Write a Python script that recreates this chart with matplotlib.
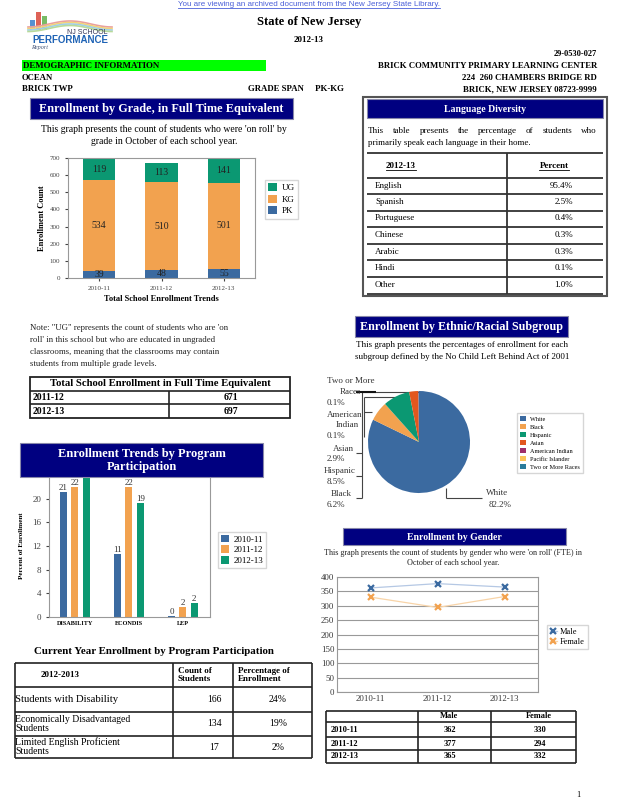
import numpy as np
import matplotlib.pyplot as plt
from matplotlib.patches import Rectangle

plt.rcParams['font.family'] = ['Liberation Serif', 'DejaVu Serif']

# data
years = ['2010-11', '2011-12', '2012-13']
pk = [39, 48, 55]
kg = [534, 510, 501]
ug = [119, 113, 141]

languages = ['English', 'Spanish', 'Portuguese', 'Chinese', 'Arabic', 'Hindi', 'Other']
lang_pct = ['95.4%', '2.5%', '0.4%', '0.3%', '0.3%', '0.1%', '1.0%']

races = ['White', 'Black', 'Hispanic', 'Asian', 'American Indian',
         'Pacific Islander', 'Two or More Races']
race_pct = [82.2, 6.2, 8.5, 2.9, 0.1, 0.0, 0.1]

programs = ['DISABILITY', 'ECONDIS', 'LEP']
prog_1011 = [21.2, 10.7, 0.2]
prog_1112 = [22.0, 22.0, 1.7]
prog_1213 = [24.0, 19.2, 2.4]

prog_names = ['Students with Disability', 'Economically Disadvantaged\nStudents',
              'Limited English Proficient\nStudents']
prog_counts = [166, 134, 17]
prog_pct = ['24%', '19%', '2%']

total_years = ['2011-12', '2012-13']
total_fte = [671, 697]

male = [362, 377, 365]
female = [330, 294, 332]

NAVY = '#000080'
BLUE = '#3b6aa0'
ORANGE = '#f2a24f'
GREEN = '#0b9872'
RED = '#e2571e'
PURPLE = '#9e2f6c'
YELLOW = '#fbc55a'
TEAL = '#2a7b9b'
race_colors = [BLUE, ORANGE, GREEN, RED, PURPLE, YELLOW, TEAL]

fig = plt.figure(figsize=(6.18, 8.0), dpi=100)
page = fig.add_axes([0, 0, 1, 1])
page.set_xlim(0, 618)
page.set_ylim(800, 0)
page.axis('off')
rend = fig.canvas.get_renderer()


def ax_at(x0, y0, x1, y1):
    return fig.add_axes([x0 / 618, 1 - y1 / 800, (x1 - x0) / 618, (y1 - y0) / 800])


def title_bar(ax, x0, y0, x1, y1, text, fs=8):
    ax.add_patch(Rectangle((x0, y0), x1 - x0, y1 - y0, fc=NAVY, ec='#8888aa', lw=0.8))
    ax.text((x0 + x1) / 2, (y0 + y1) / 2 + 0.5, text, color='white', fontweight='bold',
            fontsize=fs, ha='center', va='center', linespacing=1.1)


def hline(x0, x1, y, lw=1.2, c='#222222'):
    page.plot([x0, x1], [y, y], color=c, lw=lw, solid_capstyle='butt')


def vline(x, y0, y1, lw=1.2, c='#222222'):
    page.plot([x, x], [y0, y1], color=c, lw=lw, solid_capstyle='butt')


def underlined(x, y, s, **kw):
    t = page.text(x, y, s, va='center', **kw)
    bb = t.get_window_extent(rend)
    xa = page.transData.inverted().transform([[bb.x0, bb.y0], [bb.x1, bb.y0]])
    page.plot(xa[:, 0], [xa[0, 1] + 0.3] * 2, color=kw.get('color', 'black'), lw=0.6)


def justify(x0, x1, y, line, **kw):
    words = line.split()
    ts = [page.text(0, y, w, va='center', ha='left', **kw) for w in words]
    ws = [t.get_window_extent(rend).width for t in ts]
    gap = (x1 - x0 - sum(ws)) / (len(words) - 1)
    x = x0
    for t, w in zip(ts, ws):
        t.set_x(x)
        x += w + gap


# ---- header
link = 'You are viewing an archived document from the New Jersey State Library.'
underlined(309, 4, link, ha='center', fontsize=5.8, color='#4a5fd8', family='Liberation Sans')
page.text(309, 22, 'State of New Jersey', ha='center', va='center', fontsize=9, fontweight='bold')
page.text(309, 40, '2012-13', ha='center', va='center', fontsize=6.5, fontweight='bold')
page.text(597, 54, '29-0530-027', ha='right', va='center', fontsize=6, fontweight='bold')
page.add_patch(Rectangle((22, 60), 244, 11, fc='#00ff00', ec='none'))
page.text(23, 66, 'DEMOGRAPHIC INFORMATION', va='center', fontsize=6.4, fontweight='bold')
page.text(597, 66, 'BRICK COMMUNITY PRIMARY LEARNING CENTER', ha='right', va='center',
          fontsize=6.3, fontweight='bold')
page.text(22, 78, 'OCEAN', va='center', fontsize=6.3, fontweight='bold')
page.text(597, 78, '224  260 CHAMBERS BRIDGE RD', ha='right', va='center', fontsize=6.3, fontweight='bold')
page.text(22, 89, 'BRICK TWP', va='center', fontsize=6.3, fontweight='bold')
page.text(248, 89, 'GRADE SPAN     PK-KG', va='center', fontsize=6.3, fontweight='bold')
page.text(597, 89, 'BRICK, NEW JERSEY 08723-9999', ha='right', va='center', fontsize=6.3, fontweight='bold')

# logo
for bx, btop, c in [(30, 20, '#3a7dc9'), (36, 12, '#d9473a'), (42, 16, '#5fb04a')]:
    page.add_patch(Rectangle((bx, btop), 5, 30 - btop, fc=c, ec='none', alpha=0.85))
sx = np.linspace(28, 112, 40)
for k, c in enumerate(['#e9a0a0', '#f3d27a', '#9fd0e8', '#b8d99a']):
    page.plot(sx, 27 + k * 1.5 - 6 * np.sin((sx - 28) / 84 * np.pi) ** 2, color=c, lw=1.2)
page.text(108, 33, 'NJ SCHOOL', ha='right', va='center', fontsize=5, color='#333355', family='Liberation Sans')
page.text(108, 40, 'PERFORMANCE', ha='right', va='center', fontsize=7, color='#1f63b5',
          fontweight='bold', family='Liberation Sans')
page.text(31, 48, 'Report', va='center', fontsize=4.5, color='#445577', style='italic')

# ---- enrollment by grade
title_bar(page, 30, 98, 293, 119, 'Enrollment by Grade, in Full Time Equivalent', fs=8.8)
page.text(164, 129, "This graph presents the count of students who were 'on roll' by",
          ha='center', va='center', fontsize=7)
page.text(164, 141, 'grade in October of each school year.', ha='center', va='center', fontsize=7)

ax1 = ax_at(68, 158, 255, 278)
x = np.arange(len(years))
pk_a, kg_a, ug_a = np.array(pk), np.array(kg), np.array(ug)
b_pk = ax1.bar(x, pk_a, 0.52, color=BLUE, label='PK')
b_kg = ax1.bar(x, kg_a, 0.52, bottom=pk_a, color=ORANGE, label='KG')
b_ug = ax1.bar(x, ug_a, 0.52, bottom=pk_a + kg_a, color=GREEN, label='UG')
for b in (b_pk, b_kg, b_ug):
    ax1.bar_label(b, label_type='center', fontsize=7, color='#222222')
ax1.set_xlim(-0.5, 2.5)
ax1.set_ylim(0, 700)
ax1.set_yticks(range(0, 701, 100))
ax1.set_xticks(x, years)
ax1.tick_params(labelsize=5, length=2, colors='#444444')
for s in ax1.spines.values():
    s.set_color('#999999')
ax1.set_ylabel('Enrollment Count', fontsize=6, fontweight='bold', labelpad=3)
ax1.set_xlabel('Total School Enrollment Trends', fontsize=6, fontweight='bold', labelpad=3)
ax1.legend(handles=[b_ug, b_kg, b_pk], loc='upper left', bbox_to_anchor=(260 / 618, 1 - 175 / 800),
           bbox_transform=fig.transFigure, fontsize=6.5, fancybox=False, edgecolor='#cccccc',
           handlelength=1, handleheight=1, borderpad=0.4, labelspacing=0.25, handletextpad=0.5)

# ---- language diversity
page.add_patch(Rectangle((363, 97), 244, 199, fc='none', ec='#555555', lw=1.5))
title_bar(page, 367, 99, 603, 118, 'Language Diversity', fs=7)
justify(368, 597, 131, 'This table presents the percentage of students who', fontsize=6.5)
page.text(368, 143, 'primarily speak each language in their home.', va='center', fontsize=6.5)
row_y = [153, 178, 194, 211, 227, 244, 260, 277, 294]
for yy in row_y:
    hline(367, 603, yy, lw=1.3, c='#333333')
vline(507, 153, 294, lw=1.3, c='#333333')
underlined(401, 166, '2012-13', ha='center', fontsize=6.5, fontweight='bold')
underlined(554, 166, 'Percent', ha='center', fontsize=6.5, fontweight='bold')
for i, (lang, p) in enumerate(zip(languages, lang_pct)):
    yc = (row_y[i + 1] + row_y[i + 2]) / 2 - 0.5
    page.text(375, yc, lang, va='center', fontsize=6.5)
    page.text(573, yc, p, va='center', ha='right', fontsize=6.5)

# ---- note and totals
note = ['Note: "UG" represents the count of students who are \'on',
        "roll' in this school but who are educated in ungraded",
        'classrooms, meaning that the classrooms may contain',
        'students from multiple grade levels.']
for i, s in enumerate(note):
    page.text(30, 328 + i * 12, s, va='center', fontsize=6.3, color='#222222')

page.add_patch(Rectangle((30, 377), 260, 41, fc='none', ec='#222222', lw=1.3))
hline(30, 290, 391)
hline(30, 290, 404)
vline(169, 391, 418)
page.text(160, 384, 'Total School Enrollment in Full Time Equivalent', ha='center', va='center',
          fontsize=7.7, fontweight='bold')
for i, (yr, v) in enumerate(zip(total_years, total_fte)):
    yc = 397.5 + i * 13.5
    page.text(33, yc, yr, va='center', fontsize=7, fontweight='bold')
    page.text(231, yc, str(v), va='center', ha='center', fontsize=7, fontweight='bold')

# ---- ethnic / racial subgroup
title_bar(page, 355, 316, 568, 337, 'Enrollment by Ethnic/Racial Subgroup', fs=8.7)
page.text(462, 345, 'This graph presents the percentages of enrollment for each',
          ha='center', va='center', fontsize=6.5)
page.text(462, 357, 'subgroup defined by the No Child Left Behind Act of 2001',
          ha='center', va='center', fontsize=6.5)
axp = ax_at(368, 391, 470, 493)
axp.pie(race_pct, colors=race_colors, startangle=90, counterclock=False,
        wedgeprops=dict(linewidth=0))
axp.set_xlim(-1, 1)
axp.set_ylim(-1, 1)
axp.set_aspect('equal')

# leader lines
vline(362, 391, 498, lw=0.8, c='#444444')
hline(362, 419, 391.5, lw=0.8, c='#444444')
hline(356, 376, 391.5, lw=1.5, c='#111111')
hline(364, 408, 397, lw=0.8, c='#444444')
hline(364, 372, 412, lw=0.8, c='#444444')
vline(364, 397, 437, lw=0.8, c='#444444')
for yy in (453, 476, 498):
    hline(356, 362, yy, lw=0.8, c='#444444')
vline(446, 488, 498, lw=0.8, c='#444444')
hline(446, 482, 498, lw=0.8, c='#444444')

pie_txt = [(351, 381, 'Two or More'), (350, 392, 'Races'), (336, 403, '0.1%'),
           (345, 415, 'American'), (347, 425, 'Indian'), (336, 436, '0.1%'),
           (343, 449, 'Asian'), (336, 459, '2.9%'),
           (340, 471, 'Hispanic'), (336, 482, '8.5%'),
           (341, 494, 'Black'), (336, 505, '6.2%'),
           (497, 493, 'White'), (500, 505, '82.2%')]
for tx, ty, s in pie_txt:
    page.text(tx, ty, s, ha='center', va='center', fontsize=6.5, color='#333333')

handles = [Rectangle((0, 0), 1, 1, fc=c) for c in race_colors]
axp.legend(handles, races, loc='upper left', bbox_to_anchor=(514 / 618, 1 - 410 / 800),
           bbox_transform=fig.transFigure, fontsize=4.5, fancybox=False, edgecolor='#cccccc',
           handlelength=0.9, handleheight=0.9, borderpad=0.5, labelspacing=0.35, handletextpad=0.6)

# ---- program participation chart
ax3 = ax_at(49, 475, 210, 617)
w = 0.21
top = 24
for k, (vals, c, lab) in enumerate(zip([prog_1011, prog_1112, prog_1213], [BLUE, ORANGE, GREEN], years)):
    b = ax3.bar(np.arange(3) + (k - 1) * w, vals, 0.13, color=c, label=lab)
    # label hidden behind the title bar in the original when the bar reaches the top
    labs = ['%d' % round(v) if v < top else '' for v in vals]
    ax3.bar_label(b, labels=labs, fontsize=6.5, padding=0, color='#333333')
ax3.set_xlim(-0.48, 2.5)
ax3.set_ylim(0, top)
ax3.set_yticks(range(0, 25, 4))
ax3.set_xticks(np.arange(3), programs)
ax3.tick_params(axis='y', labelsize=6.5, length=2, colors='#444444')
ax3.tick_params(axis='x', labelsize=4.5, length=0, pad=3)
for lbl in ax3.get_xticklabels():
    lbl.set_fontweight('bold')
for s in ax3.spines.values():
    s.set_color('#999999')
ax3.set_ylabel('Percent of Enrollment', fontsize=5, fontweight='bold', labelpad=6)
ax3.legend(loc='upper left', bbox_to_anchor=(213 / 618, 1 - 527 / 800), bbox_transform=fig.transFigure,
           fontsize=6.5, fancybox=False, edgecolor='#cccccc', handlelength=0.9, handleheight=0.9,
           borderpad=0.35, labelspacing=0.2, handletextpad=0.5)

# ---- current year table
page.text(154, 652, 'Current Year Enrollment by Program Participation', ha='center', va='center',
          fontsize=7.8, fontweight='bold')
tbl_y = [663, 687, 712, 736, 758]
for yy in tbl_y:
    hline(15, 312, yy)
for xx in (15, 173, 233, 312):
    vline(xx, 663, 758)
page.text(60, 675, '2012-2013', ha='center', va='center', fontsize=6.5, fontweight='bold')
page.text(178, 675, 'Count of\nStudents', va='center', fontsize=6.5, fontweight='bold', linespacing=1.15)
page.text(238, 675, 'Percentage of\nEnrollment', va='center', fontsize=6.5, fontweight='bold', linespacing=1.15)
for i, (nm, cnt, pc) in enumerate(zip(prog_names, prog_counts, prog_pct)):
    yc = (tbl_y[i + 1] + tbl_y[i + 2]) / 2
    page.text(15, yc, nm, va='center', fontsize=7.7 if i == 0 else 7, linespacing=1.0)
    page.text(214, yc, str(cnt), va='center', ha='center', fontsize=7)
    page.text(278, yc, pc, va='center', ha='center', fontsize=7)

# ---- enrollment by gender
title_bar(page, 343, 528, 566, 545, 'Enrollment by Gender', fs=7)
page.text(453, 553, "This graph presents the count of students by gender who were 'on roll' (FTE) in",
          ha='center', va='center', fontsize=5.85, color='#222222')
page.text(453, 563, 'October of each school year.', ha='center', va='center', fontsize=5.85, color='#222222')

ax5 = ax_at(337, 577, 538, 692)
ax5.plot(x, male, color='#b5c8e4', lw=0.9, marker='x', mec=BLUE, ms=4, mew=1.6, label='Male')
ax5.plot(x, female, color='#f8d4a8', lw=0.9, marker='x', mec=ORANGE, ms=4, mew=1.6, label='Female')
ax5.set_xlim(-0.5, 2.5)
ax5.set_ylim(0, 400)
ax5.set_yticks(range(0, 401, 50))
ax5.set_xticks(x, years)
ax5.grid(axis='y', color='#999999', lw=0.8)
ax5.set_axisbelow(True)
ax5.tick_params(labelsize=6.3, length=0, colors='#333333', pad=2)
for s in ax5.spines.values():
    s.set_color('#999999')
ax5.legend(loc='upper left', bbox_to_anchor=(543 / 618, 1 - 621 / 800), bbox_transform=fig.transFigure,
           fontsize=6, fancybox=False, edgecolor='#cccccc', handlelength=0.8, borderpad=0.35,
           labelspacing=0.2, handletextpad=0.4)

g_y = [711, 722, 737, 750, 763]
for yy in g_y:
    hline(326, 576, yy)
for xx in (326, 418, 491, 576):
    vline(xx, 711, 763)
page.text(449, 716.5, 'Male', ha='center', va='center', fontsize=6, fontweight='bold')
page.text(539, 716.5, 'Female', ha='center', va='center', fontsize=6, fontweight='bold')
for i, yr in enumerate(years):
    yc = (g_y[i + 1] + g_y[i + 2]) / 2
    page.text(331, yc, yr, va='center', fontsize=6, fontweight='bold')
    page.text(450, yc, str(male[i]), va='center', ha='center', fontsize=6, fontweight='bold')
    page.text(540, yc, str(female[i]), va='center', ha='center', fontsize=6, fontweight='bold')

page.text(578, 795, '1', ha='center', va='center', fontsize=6)

# overlay: program participation title covers top of chart
over = fig.add_axes([0, 0, 1, 1])
over.set_xlim(0, 618)
over.set_ylim(800, 0)
over.axis('off')
over.patch.set_alpha(0)
title_bar(over, 20, 443, 263, 477, 'Enrollment Trends by Program\nParticipation', fs=9)

fig.savefig('out.png', dpi=100)
